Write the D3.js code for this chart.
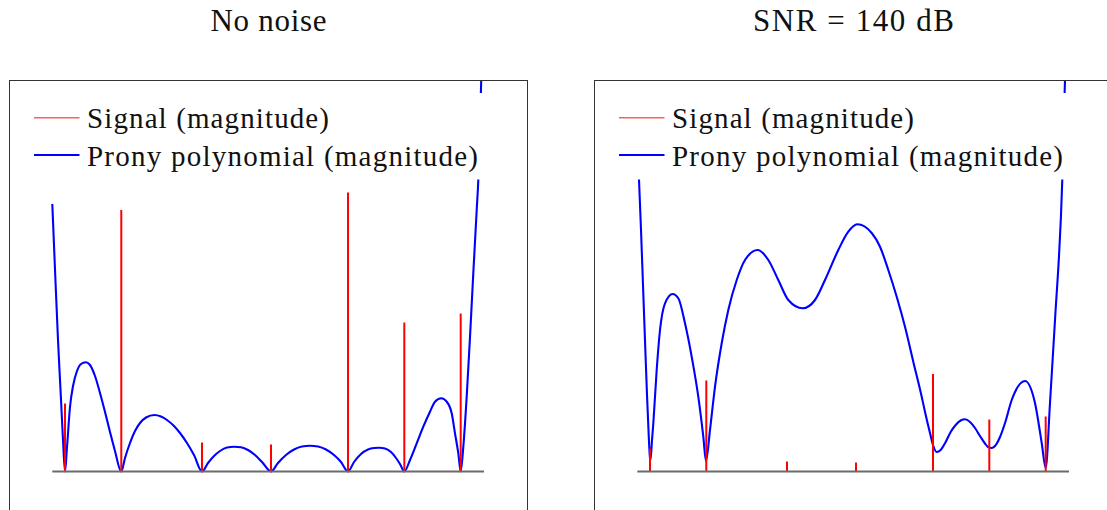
<!DOCTYPE html>
<html>
<head>
<meta charset="utf-8">
<script src="https://cdn.jsdelivr.net/npm/d3@7"></script>
<style>
  html, body { margin: 0; padding: 0; background: #fff; }
  svg { display: block; }
  text { font-family: "Liberation Serif", "DejaVu Serif", serif; fill: #111; }
</style>
</head>
<body>
<svg id="chart" width="1107" height="510"></svg>
<script>
// Normalised frequencies of the seven components (shared by both panels)
const freqs = [0.0294, 0.1598, 0.3468, 0.5066, 0.6850, 0.8154, 0.9460];

// Signal magnitudes at those frequencies
const signalClean = [0.68, 2.615, 0.29, 0.27, 2.79, 1.49, 1.58];
const signalNoisy = [0.23, 0.91, 0.10, 0.09, 0.975, 0.52, 0.55];

// Prony polynomial magnitude on the unit circle, noise-free case
const polyCleanT = [0.0000, 0.0063, 0.0132, 0.0202, 0.0248, 0.0294,
  0.0341, 0.0410, 0.0480, 0.0572, 0.0665, 0.0774, 0.0873, 0.0989, 0.1105, 0.1221, 0.1337, 0.1452, 0.1598,
  0.1684, 0.1800, 0.1916, 0.2032, 0.2171, 0.2363, 0.2518, 0.2657, 0.2819, 0.2958, 0.3120, 0.3282, 0.3468,
  0.3607, 0.3746, 0.3885, 0.4047, 0.4216, 0.4371, 0.4533, 0.4695, 0.4858, 0.5066,
  0.5228, 0.5413, 0.5599, 0.5784, 0.5969, 0.6155, 0.6340, 0.6525, 0.6688, 0.6850,
  0.6989, 0.7151, 0.7313, 0.7452, 0.7575, 0.7707, 0.7846, 0.7962, 0.8054, 0.8154,
  0.8286, 0.8441, 0.8594, 0.8749, 0.8865, 0.9011, 0.9136, 0.9252, 0.9328, 0.9405, 0.9460,
  0.9521, 0.9599, 0.9676, 0.9752, 0.9831, 0.9868, 0.9907, 0.9937, 0.9954];
const polyCleanMag = [2.675, 2.015, 1.315, 0.715, 0.315, 0.000,
  0.245, 0.645, 0.855, 1.005, 1.075, 1.092, 1.065, 0.955, 0.785, 0.595, 0.395, 0.205, 0.000,
  0.135, 0.285, 0.405, 0.485, 0.540, 0.565, 0.550, 0.515, 0.455, 0.385, 0.285, 0.165, 0.000,
  0.085, 0.155, 0.205, 0.240, 0.248, 0.242, 0.215, 0.165, 0.095, 0.000,
  0.085, 0.165, 0.220, 0.250, 0.258, 0.250, 0.220, 0.165, 0.095, 0.000,
  0.095, 0.175, 0.220, 0.235, 0.238, 0.230, 0.195, 0.135, 0.075, 0.000,
  0.115, 0.282, 0.448, 0.598, 0.698, 0.732, 0.698, 0.582, 0.382, 0.182, 0.000,
  0.248, 0.748, 1.348, 1.982, 2.615, 2.915, 3.465, 3.935, 4.165];

// Prony polynomial magnitude, SNR = 140 dB
const polyNoisyT = [0.0000, 0.0039, 0.0086, 0.0132, 0.0178, 0.0225, 0.0259, 0.0294, 0.0306,
  0.0341, 0.0371, 0.0449, 0.0526, 0.0642, 0.0820, 0.0950, 0.1105, 0.1260, 0.1413, 0.1529, 0.1591,
  0.1684, 0.1800, 0.1955, 0.2108, 0.2303, 0.2495, 0.2789, 0.3035, 0.3266, 0.3498, 0.3831,
  0.4116, 0.4348, 0.4656, 0.4888, 0.5096, 0.5430, 0.5622, 0.5814, 0.6009, 0.6201, 0.6393,
  0.6588, 0.6665, 0.6780, 0.6850, 0.6935, 0.7027, 0.7143, 0.7259, 0.7375, 0.7491, 0.7591,
  0.7707, 0.7823, 0.7938, 0.8054, 0.8124, 0.8209, 0.8286, 0.8402, 0.8518, 0.8673,
  0.8981, 0.9212, 0.9368, 0.9460, 0.9560, 0.9676, 0.9845, 0.9907, 0.9930];
const polyNoisyMag = [3.365, 2.922, 2.415, 1.865, 1.315, 0.765, 0.415, 0.135, 0.115,
  0.315, 0.482, 1.015, 1.415, 1.682, 1.775, 1.732, 1.482, 1.148, 0.748, 0.348, 0.105,
  0.415, 0.848, 1.282, 1.615, 1.915, 2.115, 2.215, 2.115, 1.915, 1.715, 1.632,
  1.715, 1.915, 2.215, 2.398, 2.472, 2.385, 2.248, 2.015, 1.748, 1.448, 1.098,
  0.748, 0.595, 0.385, 0.265, 0.195, 0.215, 0.295, 0.395, 0.465, 0.510, 0.522,
  0.495, 0.435, 0.355, 0.280, 0.245, 0.235, 0.255, 0.345, 0.485, 0.715,
  0.905, 0.685, 0.285, 0.035, 0.685, 1.515, 2.922, 3.915, 4.215];

const titles = ["No noise", "SNR = 140 dB"];
const legendLabels = ["Signal (magnitude)", "Prony polynomial (magnitude)"];

const panels = [
  { title: titles[0], signal: signalClean, polyT: polyCleanT, polyMag: polyCleanMag },
  { title: titles[1], signal: signalNoisy, polyT: polyNoisyT, polyMag: polyNoisyMag }
];

const svg = d3.select("#chart");
svg.append("rect").attr("width", 1107).attr("height", 510).attr("fill", "#fff");

const panelStep = 585;
const frame = { x: 9.5, y: 80.5, w: 518, h: 520 };
const plotX = [52.3, 484];
const baseY = 471.5;

panels.forEach((p, i) => {
  const off = i * panelStep;
  const g = svg.append("g").attr("transform", `translate(${off},0)`);

  const x = d3.scaleLinear().domain([0, 1]).range(plotX);
  const y = d3.scaleLinear().domain([0, 4]).range([baseY, baseY - 400]);

  const clipId = `clip-${i}`;
  g.append("clipPath").attr("id", clipId)
    .append("rect")
    .attr("x", frame.x).attr("y", frame.y)
    .attr("width", frame.w).attr("height", frame.h);

  const plot = g.append("g").attr("clip-path", `url(#${clipId})`);

  // Prony polynomial magnitude
  const pts = p.polyT.map((t, k) => [t, p.polyMag[k]]);
  const line = d3.line()
    .x(d => x(d[0]))
    .y(d => y(d[1]))
    .curve(d3.curveMonotoneX);
  plot.append("path")
    .datum(pts)
    .attr("d", line)
    .attr("fill", "none")
    .attr("stroke", "#0000ff")
    .attr("stroke-width", 2.1)
    .attr("stroke-linejoin", "round");

  // Signal stems
  plot.selectAll("line.stem")
    .data(freqs.map((f, k) => [f, p.signal[k]]))
    .join("line")
    .attr("class", "stem")
    .attr("x1", d => x(d[0])).attr("x2", d => x(d[0]))
    .attr("y1", y(0)).attr("y2", d => y(d[1]))
    .attr("stroke", "#ff0000")
    .attr("stroke-width", 2);

  // Zero baseline
  plot.append("line")
    .attr("x1", x(0)).attr("x2", x(1))
    .attr("y1", y(0)).attr("y2", y(0))
    .attr("stroke", "#6b6b6b")
    .attr("stroke-width", 2);

  // Legend (opaque box over the curves)
  const lg = g.append("g");
  lg.append("rect")
    .attr("x", 22).attr("y", 93)
    .attr("width", 467).attr("height", 86.5)
    .attr("fill", "#fff");
  const rows = [
    { label: legendLabels[0], color: "#ff5c5c", width: 1.6, ly: 117.7, ty: 128.3, len: 242 },
    { label: legendLabels[1], color: "#0000ff", width: 2.1, ly: 155, ty: 165.7, len: 391 }
  ];
  rows.forEach(r => {
    lg.append("line")
      .attr("x1", 34).attr("x2", 79.5)
      .attr("y1", r.ly).attr("y2", r.ly)
      .attr("stroke", r.color)
      .attr("stroke-width", r.width);
    lg.append("text")
      .attr("x", 87).attr("y", r.ty)
      .attr("font-size", 29)
      .attr("textLength", r.len)
      .attr("lengthAdjust", "spacing")
      .text(r.label);
  });

  // Frame
  g.append("rect")
    .attr("x", frame.x).attr("y", frame.y)
    .attr("width", frame.w).attr("height", frame.h)
    .attr("fill", "none")
    .attr("stroke", "#333")
    .attr("stroke-width", 1);

  // Title
  g.append("text")
    .attr("x", frame.x + frame.w / 2)
    .attr("y", 30.5)
    .attr("text-anchor", "middle")
    .attr("font-size", 31)
    .attr("textLength", i === 0 ? 116 : 201)
    .attr("lengthAdjust", "spacing")
    .text(p.title);
});
</script>
</body>
</html>
